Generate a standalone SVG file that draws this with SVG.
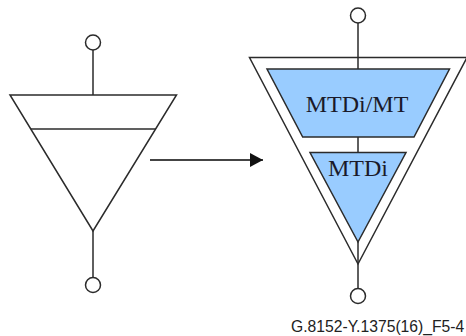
<svg xmlns="http://www.w3.org/2000/svg" width="466" height="336" viewBox="0 0 466 336">
<style>
.s{fill:none;stroke:#2b2b2b;stroke-width:1.5;stroke-linejoin:miter}
.w{fill:#fff;stroke:#2b2b2b;stroke-width:1.5}
.b{fill:#99ccff;stroke:#2b2b2b;stroke-width:1.5}
.t{font-family:"Liberation Serif","Times New Roman",serif;font-size:24px;fill:#1a1a2a;text-anchor:middle}
</style>
<defs><marker id="a" markerUnits="userSpaceOnUse" markerWidth="13" markerHeight="14" refX="13" refY="7" orient="auto"><path d="M0 0L13 7L0 14Z" fill="#111"/></marker></defs>
<rect width="466" height="336" fill="#fff"/>
<g id="connectors">
<path class="s" d="M93 50V95M93 231V277M358 23V69M358 137V153M358 242V288"/>
<path d="M150 160H263" fill="none" stroke="#444" stroke-width="2" marker-end="url(#a)"/>
</g>
<g id="left-node">
<circle class="w" cx="93" cy="42.5" r="7.5"/>
<path class="s" d="M10 95H176.5L93 231Z"/>
<path class="s" d="M31 129H156"/>
<circle class="w" cx="93" cy="285" r="7.5"/>
</g>
<g id="right-node">
<circle class="w" cx="358" cy="15.5" r="7.5"/>
<path class="s" d="M249.500 57.500H467L358 264Z"/>
<circle class="w" cx="358" cy="296" r="7.5"/>
</g>
<g id="mtdi-mt">
<path class="b" d="M267 69H449.500L414 137H302.700Z"/>
<text class="t" x="357" y="111.500">MTDi/MT</text>
</g>
<g id="mtdi">
<path class="b" d="M310 152.500H406L358 242Z"/>
<text class="t" x="358" y="175.500">MTDi</text>
</g>
<text x="291" y="331.500" font-family="'Liberation Sans',Arial,sans-serif" font-size="15.700" fill="#222">G.8152-Y.1375(16)_F5-4</text>
</svg>
